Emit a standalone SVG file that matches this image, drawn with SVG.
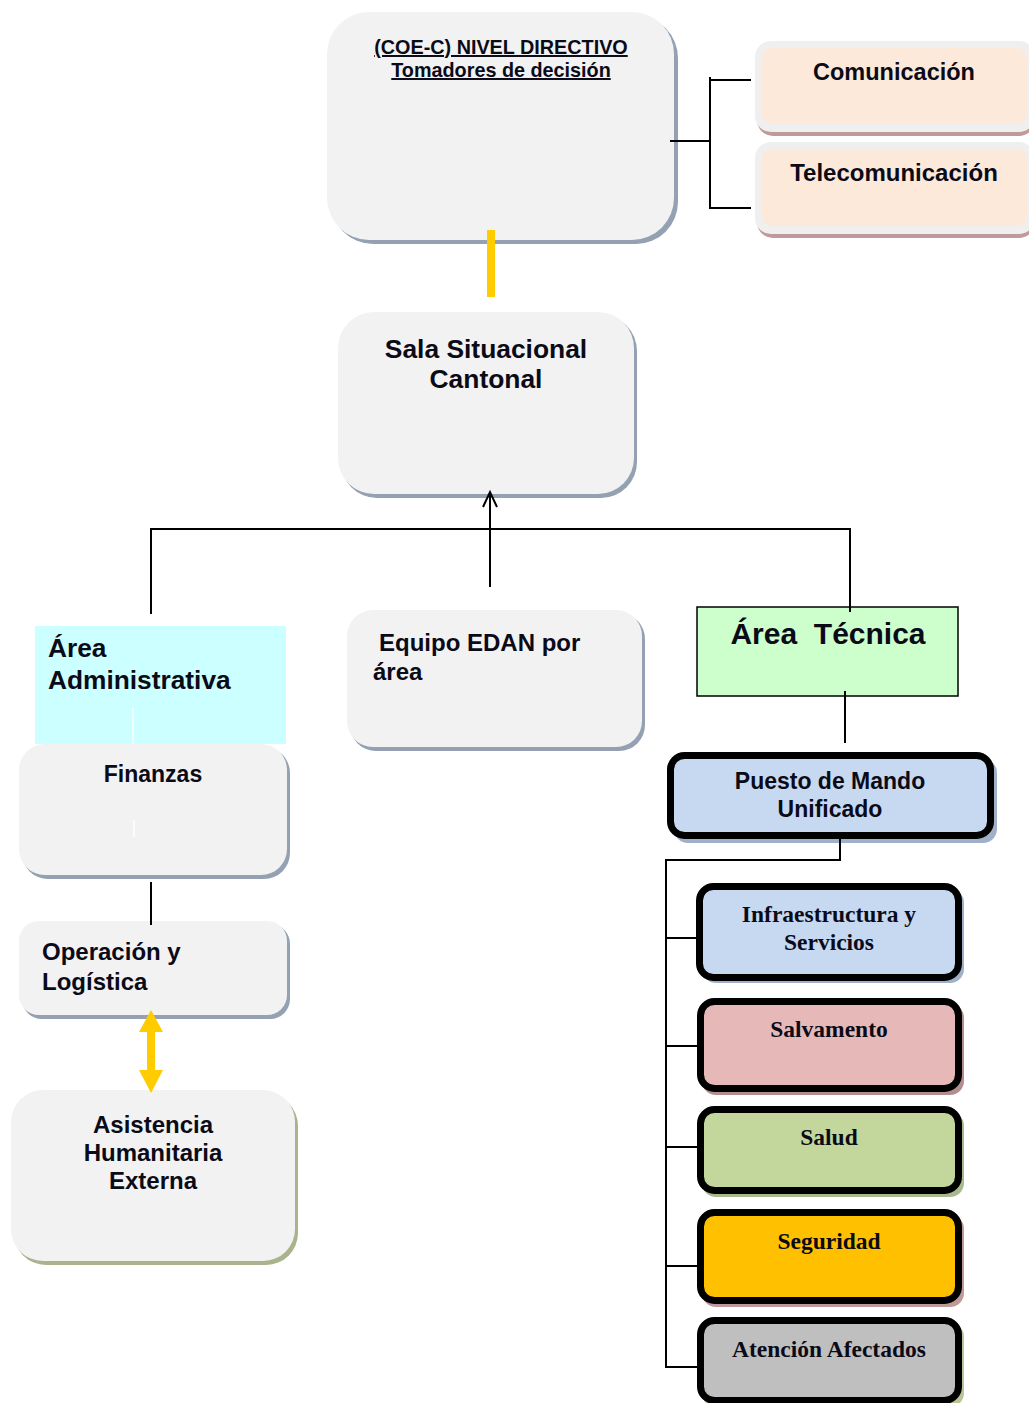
<svg xmlns="http://www.w3.org/2000/svg" width="1029" height="1403" viewBox="0 0 1029 1403">
<style>
text{font-family:"Liberation Sans",Arial,sans-serif;font-weight:bold;fill:#0b0b18}
.serif{font-family:"Liberation Serif","Times New Roman",serif}
.mid{text-anchor:middle}
.box{fill:#f2f2f2}
.sh{fill:#93a1b3}
.shg{fill:#a9b38c}
.shr{fill:#c09a9a}
.thick{stroke:#000;stroke-width:7}
.ln{stroke:#000;stroke-width:2;fill:none}
</style>
<rect width="1029" height="1403" fill="#fff"/>

<g id="coe">
<rect class="sh" x="331" y="16" width="347" height="228" rx="42"/>
<rect class="box" x="327" y="12" width="347" height="228" rx="42"/>
<text class="mid" x="501" y="54" font-size="19.8" text-decoration="underline">(COE-C) NIVEL DIRECTIVO</text>
<text class="mid" x="501" y="77" font-size="19.8" text-decoration="underline">Tomadores de decisión</text>
</g>

<g id="comunicacion">
<rect class="shr" x="757" y="45" width="278" height="91" rx="16"/>
<rect fill="#efefef" x="755" y="41" width="280" height="91" rx="16"/>
<rect fill="#fce9da" x="762" y="48" width="265" height="76" rx="10"/>
<text class="mid" x="894" y="80" font-size="23.5">Comunicación</text>
</g>

<g id="telecomunicacion">
<rect class="shr" x="757" y="146" width="278" height="92" rx="16"/>
<rect fill="#efefef" x="755" y="142" width="280" height="92" rx="16"/>
<rect fill="#fce9da" x="762" y="149" width="265" height="77" rx="10"/>
<text class="mid" x="894" y="181" font-size="24">Telecomunicación</text>
</g>

<g id="sala">
<rect class="sh" x="341" y="315" width="296" height="183" rx="36"/>
<rect class="box" x="338" y="312" width="296" height="182" rx="36"/>
<text class="mid" x="486" y="358" font-size="26.4">Sala Situacional</text>
<text class="mid" x="486" y="388" font-size="26.4">Cantonal</text>
</g>

<g id="area-administrativa">
<rect fill="#ccffff" x="35" y="626" width="251" height="118"/>
<line x1="133" y1="708" x2="133" y2="744" stroke="#fff" stroke-width="1.5"/>
<text x="48" y="657" font-size="26.3">Área</text>
<text x="48" y="689" font-size="26.3">Administrativa</text>
</g>

<g id="finanzas">
<rect class="sh" x="22" y="747" width="268" height="132" rx="26"/>
<rect class="box" x="19" y="744" width="268" height="131" rx="26"/>
<line x1="134" y1="820" x2="134" y2="837" stroke="#fff" stroke-width="1.5"/>
<text class="mid" x="153" y="782" font-size="23">Finanzas</text>
</g>

<g id="operacion">
<rect class="sh" x="22" y="924" width="268" height="95" rx="20"/>
<rect class="box" x="19" y="921" width="268" height="94" rx="20"/>
<text x="42" y="960" font-size="24">Operación y</text>
<text x="42" y="990" font-size="24">Logística</text>
</g>

<g id="asistencia">
<rect class="shg" x="14" y="1094" width="284" height="171" rx="32"/>
<rect class="box" x="11" y="1090" width="284" height="171" rx="32"/>
<text class="mid" x="153" y="1133" font-size="24">Asistencia</text>
<text class="mid" x="153" y="1161" font-size="24">Humanitaria</text>
<text class="mid" x="153" y="1189" font-size="24">Externa</text>
</g>

<g id="edan">
<rect class="sh" x="350" y="613" width="295" height="138" rx="26"/>
<rect class="box" x="347" y="610" width="295" height="137" rx="26"/>
<text x="379" y="651" font-size="24">Equipo EDAN por</text>
<text x="373" y="680" font-size="24">área</text>
</g>

<g id="area-tecnica">
<rect fill="#ccffcc" stroke="#000" stroke-width="1.5" x="697" y="607" width="261" height="89"/>
<text class="mid" x="828" y="644" font-size="30" xml:space="preserve">Área  Técnica</text>
</g>

<g id="puesto-mando">
<rect fill="#9fb0c8" x="674" y="759" width="323" height="84" rx="14"/>
<rect class="thick" fill="#c6d9f1" x="670.5" y="755.5" width="320" height="80" rx="14"/>
<text class="mid" x="830" y="789" font-size="23">Puesto de Mando</text>
<text class="mid" x="830" y="817" font-size="23">Unificado</text>
</g>

<g id="infraestructura">
<rect fill="#9fb0c8" x="702" y="889" width="262" height="94" rx="14"/>
<rect class="thick" fill="#c6d9f1" x="699.5" y="886.5" width="259" height="91" rx="14"/>
<text class="serif mid" x="829" y="922" font-size="23.5">Infraestructura y</text>
<text class="serif mid" x="829" y="950" font-size="23.5">Servicios</text>
</g>

<g id="salvamento">
<rect fill="#b48e8e" x="702" y="1004" width="262" height="91" rx="14"/>
<rect class="thick" fill="#e6b9b8" x="700.5" y="1001.5" width="258" height="87" rx="14"/>
<text class="serif mid" x="829" y="1037" font-size="23.5">Salvamento</text>
</g>

<g id="salud">
<rect fill="#a9b98d" x="702" y="1112" width="262" height="85" rx="14"/>
<rect class="thick" fill="#c3d69b" x="700.5" y="1109.5" width="258" height="81" rx="14"/>
<text class="serif mid" x="829" y="1145" font-size="23.5">Salud</text>
</g>

<g id="seguridad">
<rect fill="#c09a9a" x="702" y="1215" width="262" height="92" rx="14"/>
<rect class="thick" fill="#ffc000" x="700.5" y="1212.5" width="258" height="88" rx="14"/>
<text class="serif mid" x="829" y="1249" font-size="23.5">Seguridad</text>
</g>

<g id="atencion">
<rect fill="#b8c49a" x="702" y="1323" width="262" height="84" rx="14"/>
<rect class="thick" fill="#bfbfbf" x="700.5" y="1320.5" width="258" height="80" rx="14"/>
<text class="serif mid" x="829" y="1357" font-size="23.5">Atención Afectados</text>
</g>

<g id="connectors">
<line x1="491" y1="230" x2="491" y2="297" stroke="#ffcc00" stroke-width="8"/>
<path class="ln" d="M670,141 H710 M710,77 V209 M710,80 H751 M710,208 H751"/>
<path class="ln" d="M151,614 V529 H850 V612"/>
<line class="ln" x1="490" y1="587" x2="490" y2="492"/>
<path class="ln" d="M483,507 L490,492 L497,507"/>
<line class="ln" x1="151" y1="882" x2="151" y2="925"/>
<line class="ln" x1="845" y1="691" x2="845" y2="743"/>
<path class="ln" d="M840,837 V860 H666 V1367 H700 M666,938 H700 M666,1046 H700 M666,1147 H700 M666,1266 H700"/>
<path d="M151,1010 L163,1032 L155,1032 L155,1070 L163,1070 L151,1093 L139,1070 L147,1070 L147,1032 L139,1032 Z" fill="#ffcc00"/>
</g>
</svg>
